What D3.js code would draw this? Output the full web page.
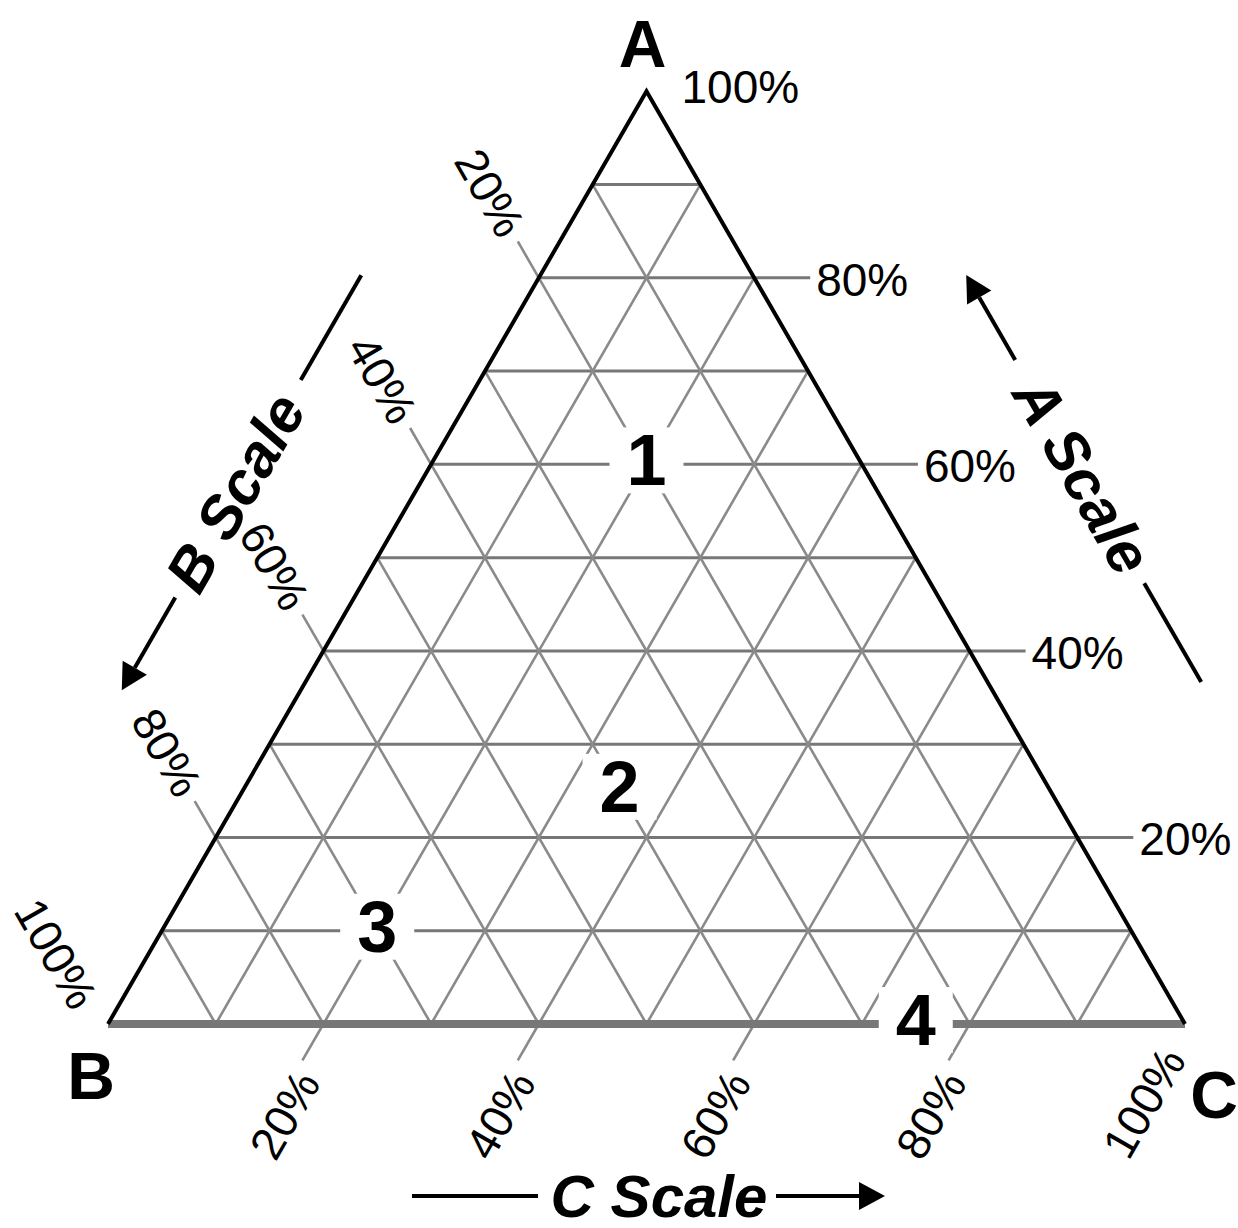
<!DOCTYPE html>
<html>
<head>
<meta charset="utf-8">
<script src="https://cdn.jsdelivr.net/npm/d3@7"></script>
<style>
  body { margin: 0; background: #fff; }
  svg { display: block; }
</style>
</head>
<body>
<svg id="chart"></svg>
<script>
// grid every 10%, labels every 20%
const gridTicks = [0.1, 0.2, 0.3, 0.4, 0.5, 0.6, 0.7, 0.8, 0.9];
const labelTicks = [20, 40, 60, 80, 100];
const vertexNames = ['A', 'B', 'C'];
const scaleTitles = ['A Scale', 'B Scale', 'C Scale'];
// numbered regions, in ternary coordinates (A, B, C)
const regionNames = ['1', '2', '3', '4'];
const regionA = [0.6, 0.25, 0.1, 0];
const regionB = [0.2, 0.4, 0.7, 0.25];
const regionC = [0.2, 0.35, 0.2, 0.75];

const width = 1238, height = 1228;
const font = '"Liberation Sans", Arial, sans-serif';

const svg = d3.select('#chart')
    .attr('width', width)
    .attr('height', height)
    .style('background', '#fff');

const x = d3.scaleLinear().domain([0, 1]).range([108, 1185]);
const side = x(1) - x(0);
const y = d3.scaleLinear().domain([0, 1]).range([1024, 1024 - side * Math.sqrt(3) / 2]);

// ternary -> screen
function pt(a, b, c) { return [x(c + a / 2), y(a)]; }

const A = pt(1, 0, 0), B = pt(0, 1, 0), C = pt(0, 0, 1);
const G = pt(1 / 3, 1 / 3, 1 / 3);

function unit(p, q) {
    const dx = q[0] - p[0], dy = q[1] - p[1];
    const l = Math.hypot(dx, dy);
    return [dx / l, dy / l];
}
function move(p, d, t) { return [p[0] + d[0] * t, p[1] + d[1] * t]; }

const gridColor = '#777';
const diagColor = '#8a8a8a';

// Grid lines
const grid = svg.append('g').attr('fill', 'none');

grid.selectAll('line.ga').data(gridTicks).enter().append('line')
    .attr('class', 'ga')
    .attr('x1', t => pt(t, 1 - t, 0)[0]).attr('y1', t => pt(t, 1 - t, 0)[1])
    .attr('x2', t => pt(t, 0, 1 - t)[0]).attr('y2', t => pt(t, 0, 1 - t)[1])
    .attr('stroke', gridColor).attr('stroke-width', 3);

grid.selectAll('line.gb').data(gridTicks).enter().append('line')
    .attr('class', 'gb')
    .attr('x1', t => pt(1 - t, t, 0)[0]).attr('y1', t => pt(1 - t, t, 0)[1])
    .attr('x2', t => pt(0, t, 1 - t)[0]).attr('y2', t => pt(0, t, 1 - t)[1])
    .attr('stroke', diagColor).attr('stroke-width', 2.6);

grid.selectAll('line.gc').data(gridTicks).enter().append('line')
    .attr('class', 'gc')
    .attr('x1', t => pt(0, 1 - t, t)[0]).attr('y1', t => pt(0, 1 - t, t)[1])
    .attr('x2', t => pt(1 - t, 0, t)[0]).attr('y2', t => pt(1 - t, 0, t)[1])
    .attr('stroke', diagColor).attr('stroke-width', 2.6);

// Tick extensions and labels
const ticks = svg.append('g');
const dirB = unit(C, A);   // B lines run parallel to CA, extended up-left
const dirC = unit(A, B);   // C lines run parallel to AB, extended down-left
const extLen = 42;

labelTicks.forEach(v => {
    const f = v / 100;
    const label = v + '%';

    // A scale: horizontal lines extended to the right
    const ea = pt(f, 0, 1 - f);
    if (v < 100) {
        ticks.append('line')
            .attr('x1', ea[0]).attr('y1', ea[1])
            .attr('x2', ea[0] + 56).attr('y2', ea[1])
            .attr('stroke', gridColor).attr('stroke-width', 3);
    }
    ticks.append('text')
        .attr('x', ea[0] + (v < 100 ? 62 : 35))
        .attr('y', ea[1] + (v < 100 ? 2 : -4))
        .attr('dominant-baseline', 'central')
        .attr('font-family', font).attr('font-size', 46)
        .text(label);

    // B scale
    const eb = pt(1 - f, f, 0);
    if (v < 100) {
        const p2 = move(eb, dirB, extLen);
        ticks.append('line')
            .attr('x1', eb[0]).attr('y1', eb[1]).attr('x2', p2[0]).attr('y2', p2[1])
            .attr('stroke', diagColor).attr('stroke-width', 2.6);
    }
    const lb = move(eb, dirB, v < 100 ? 52 : 28);
    ticks.append('text')
        .attr('transform', `translate(${lb[0]},${lb[1]}) rotate(60)`)
        .attr('dy', v < 100 ? 0 : 10)
        .attr('text-anchor', 'end')
        .attr('dominant-baseline', 'central')
        .attr('font-family', font).attr('font-size', 46)
        .text(label);

    // C scale
    const ec = pt(0, 1 - f, f);
    if (v < 100) {
        const p2 = move(ec, dirC, extLen);
        ticks.append('line')
            .attr('x1', ec[0]).attr('y1', ec[1]).attr('x2', p2[0]).attr('y2', p2[1])
            .attr('stroke', diagColor).attr('stroke-width', 2.6);
    }
    const lc = move(ec, dirC, v < 100 ? 52 : 30);
    ticks.append('text')
        .attr('transform', `translate(${lc[0]},${lc[1]}) rotate(-60)`)
        .attr('dy', v < 100 ? 12 : 4)
        .attr('text-anchor', 'end')
        .attr('dominant-baseline', 'central')
        .attr('font-family', font).attr('font-size', 46)
        .text(label);
});

// Triangle edges
svg.append('line')
    .attr('x1', B[0]).attr('y1', B[1]).attr('x2', C[0]).attr('y2', C[1])
    .attr('stroke', gridColor).attr('stroke-width', 8);
svg.append('path')
    .attr('d', d3.line()([B, A, C]))
    .attr('fill', 'none')
    .attr('stroke', '#000').attr('stroke-width', 4)
    .attr('stroke-linejoin', 'miter');

// Numbered regions
const regions = regionNames.map((name, i) => ({ name, p: pt(regionA[i], regionB[i], regionC[i]) }));
const reg = svg.append('g').selectAll('g').data(regions).enter().append('g')
    .attr('transform', d => `translate(${d.p[0]},${d.p[1] - 4})`);
reg.append('rect')
    .attr('x', -37).attr('y', -33).attr('width', 74).attr('height', 66)
    .attr('fill', '#fff');
reg.append('text')
    .attr('text-anchor', 'middle')
    .attr('dominant-baseline', 'central')
    .attr('font-family', font).attr('font-weight', 'bold').attr('font-size', 72)
    .text(d => d.name);

// Vertex names
const vertexPos = [[A, -4, -47], [B, -17, 52], [C, 29, 71]];
svg.append('g').selectAll('text').data(vertexNames).enter().append('text')
    .attr('x', (d, i) => vertexPos[i][0][0] + vertexPos[i][1])
    .attr('y', (d, i) => vertexPos[i][0][1] + vertexPos[i][2])
    .attr('text-anchor', 'middle')
    .attr('dominant-baseline', 'central')
    .attr('font-family', font).attr('font-weight', 'bold').attr('font-size', 66)
    .text(d => d);

// Scale captions: line —— title —— arrow, parallel to an edge
function outward(base, dir) {
    let n = [-dir[1], dir[0]];
    if (n[0] * (base[0] - G[0]) + n[1] * (base[1] - G[1]) < 0) n = [-n[0], -n[1]];
    return n;
}

const captions = [
    { base: C, toward: A, off: 185, line: [288, 402], text: 526, angle: 60, arrow: [660, 758] },
    { base: B, toward: A, off: 155, line: [654, 775], text: 524, angle: -60, arrow: [403, 296] },
    { base: B, toward: C, off: 172, line: [304, 430], text: 551, angle: 0, arrow: [668, 777] }
];

const cap = svg.append('g');
captions.forEach((c, i) => {
    const dir = unit(c.base, c.toward);
    const n = outward(c.base, dir);
    const at = t => move(move(c.base, dir, t), n, c.off);

    const l0 = at(c.line[0]), l1 = at(c.line[1]);
    cap.append('line')
        .attr('x1', l0[0]).attr('y1', l0[1]).attr('x2', l1[0]).attr('y2', l1[1])
        .attr('stroke', '#000').attr('stroke-width', 4);

    const tail = at(c.arrow[0]), tip = at(c.arrow[1]);
    const w = unit(tail, tip);
    const base = move(tip, w, -26);
    cap.append('line')
        .attr('x1', tail[0]).attr('y1', tail[1]).attr('x2', base[0]).attr('y2', base[1])
        .attr('stroke', '#000').attr('stroke-width', 4);
    const p = [-w[1], w[0]];
    cap.append('path')
        .attr('d', d3.line()([tip, move(base, p, 14), move(base, p, -14)]) + 'Z')
        .attr('fill', '#000');

    const tc = at(c.text);
    cap.append('text')
        .attr('transform', `translate(${tc[0]},${tc[1]}) rotate(${c.angle})`)
        .attr('text-anchor', 'middle')
        .attr('dominant-baseline', 'central')
        .attr('font-family', font).attr('font-weight', 'bold').attr('font-style', 'italic')
        .attr('font-size', 60)
        .text(scaleTitles[i]);
});
</script>
</body>
</html>
